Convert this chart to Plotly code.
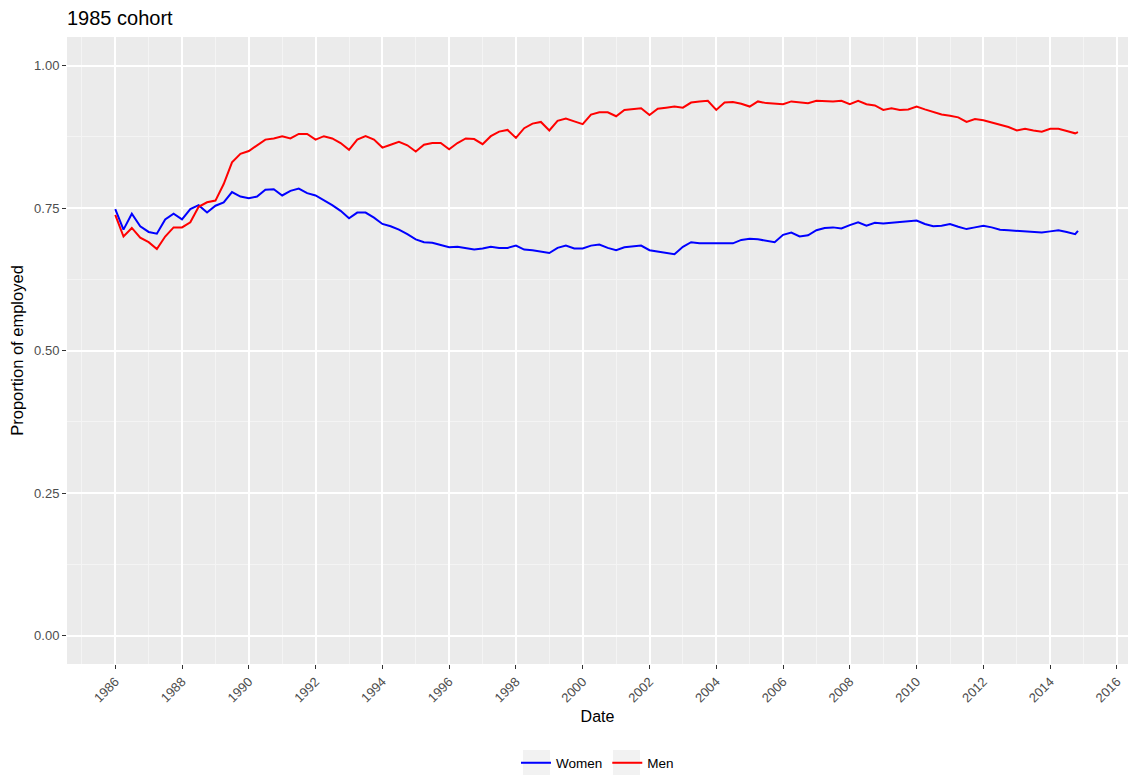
import plotly.graph_objects as go

# Quarterly observations (Jan, Apr, Jul, Oct) from 1986 to 2014, plus Nov 2014
years = list(range(1986, 2015))
months = ["01", "04", "07", "10"]
dates = [f"{y}-{m}-01" for y in years for m in months] + ["2014-11-01"]

women = [
    0.748, 0.712, 0.740, 0.718,   # 1986
    0.708, 0.705, 0.730, 0.740,   # 1987
    0.730, 0.748, 0.755, 0.742,   # 1988
    0.754, 0.760, 0.778, 0.770,   # 1989
    0.767, 0.770, 0.782, 0.783,   # 1990
    0.772, 0.780, 0.784, 0.776,   # 1991
    0.772, 0.764, 0.755, 0.745,   # 1992
    0.732, 0.742, 0.742, 0.733,   # 1993
    0.722, 0.718, 0.712, 0.704,   # 1994
    0.695, 0.690, 0.689, 0.685,   # 1995
    0.681, 0.682, 0.680, 0.677,   # 1996
    0.679, 0.682, 0.680, 0.680,   # 1997
    0.684, 0.677, 0.676, 0.674,   # 1998
    0.671, 0.680, 0.684, 0.679,   # 1999
    0.679, 0.684, 0.686, 0.680,   # 2000
    0.676, 0.681, 0.683, 0.684,   # 2001
    0.676, 0.674, 0.672, 0.669,   # 2002
    0.682, 0.690, 0.688, 0.688,   # 2003
    0.688, 0.689, 0.688, 0.694,   # 2004
    0.696, 0.695, 0.692, 0.690,   # 2005
    0.703, 0.707, 0.700, 0.702,   # 2006
    0.711, 0.715, 0.716, 0.714,   # 2007
    0.720, 0.725, 0.719, 0.724,   # 2008
    0.723, 0.724, 0.726, 0.726,   # 2009
    0.728, 0.722, 0.718, 0.719,   # 2010
    0.722, 0.717, 0.713, 0.716,   # 2011
    0.719, 0.716, 0.712, 0.711,   # 2012
    0.710, 0.709, 0.707, 0.707,   # 2013
    0.709, 0.711, 0.708, 0.704,   # 2014
    0.710,
]

men = [
    0.738, 0.700, 0.715, 0.698,   # 1986
    0.690, 0.678, 0.700, 0.716,   # 1987
    0.716, 0.725, 0.752, 0.760,   # 1988
    0.763, 0.792, 0.830, 0.845,   # 1989
    0.850, 0.860, 0.870, 0.872,   # 1990
    0.876, 0.872, 0.880, 0.880,   # 1991
    0.870, 0.876, 0.872, 0.864,   # 1992
    0.852, 0.870, 0.876, 0.870,   # 1993
    0.856, 0.861, 0.866, 0.860,   # 1994
    0.849, 0.861, 0.864, 0.864,   # 1995
    0.853, 0.864, 0.872, 0.871,   # 1996
    0.862, 0.876, 0.884, 0.887,   # 1997
    0.873, 0.890, 0.898, 0.901,   # 1998
    0.886, 0.903, 0.907, 0.902,   # 1999
    0.897, 0.914, 0.918, 0.918,   # 2000
    0.911, 0.922, 0.924, 0.925,   # 2001
    0.913, 0.924, 0.926, 0.928,   # 2002
    0.926, 0.935, 0.937, 0.938,   # 2003
    0.922, 0.935, 0.936, 0.933,   # 2004
    0.928, 0.937, 0.934, 0.933,   # 2005
    0.932, 0.937, 0.936, 0.934,   # 2006
    0.938, 0.937, 0.937, 0.938,   # 2007
    0.932, 0.938, 0.932, 0.930,   # 2008
    0.922, 0.925, 0.922, 0.923,   # 2009
    0.928, 0.923, 0.918, 0.914,   # 2010
    0.912, 0.909, 0.901, 0.906,   # 2011
    0.904, 0.900, 0.897, 0.892,   # 2012
    0.886, 0.889, 0.886, 0.884,   # 2013
    0.889, 0.889, 0.885, 0.881,   # 2014
    0.883,
]

series_names = ["Women", "Men"]
series_colors = ["#0000FF", "#FF0000"]

FONT = "Liberation Sans, Arial, sans-serif"

W, H = 1136, 776
ML, MR, MT, MB = 67, 8, 37, 112
PW, PH = W - ML - MR, H - MT - MB


def px_x(p):
    # page pixel -> paper x
    return (p - ML) / PW


def px_y(p):
    # page pixel -> paper y
    return (H - MB - p) / PH


fig = go.Figure()
for name, vals, col in zip(series_names, [women, men], series_colors):
    fig.add_trace(go.Scatter(
        x=dates, y=vals, mode="lines", name=name,
        line=dict(color=col, width=2),
    ))

# grey key backgrounds behind the legend glyphs
key_boxes = [(523, 550), (613, 640)]
shapes = [
    dict(type="rect", xref="paper", yref="paper",
         x0=px_x(a), x1=px_x(b), y0=px_y(775), y1=px_y(750),
         fillcolor="#F2F2F2", line=dict(width=0), layer="above")
    for a, b in key_boxes
]

fig.update_layout(
    width=W, height=H,
    margin=dict(l=ML, r=MR, t=MT, b=MB, autoexpand=False),
    paper_bgcolor="white",
    plot_bgcolor="#EBEBEB",
    font=dict(family=FONT, color="#000000"),
    title=dict(text="1985 cohort", x=ML / W, xanchor="left",
               y=1 - 18 / H, yanchor="middle",
               font=dict(size=20, color="#000000", family=FONT)),
    showlegend=True,
    legend=dict(orientation="h", x=0.5, xanchor="center",
                yref="container", y=1 - 763 / H, yanchor="middle",
                font=dict(size=13.5, color="#000000", family=FONT),
                bgcolor="rgba(0,0,0,0)", itemwidth=30),
    shapes=shapes,
)

fig.update_xaxes(
    type="date", automargin=False,
    range=["1984-07-22", "2016-05-01"],
    tick0="1986-01-01", dtick="M24", tickformat="%Y",
    tickangle=-45,
    ticks="outside", ticklen=4, tickcolor="#333333", tickwidth=1,
    tickfont=dict(size=13, color="#4D4D4D", family=FONT),
    showgrid=True, gridcolor="white", gridwidth=1.6,
    minor=dict(dtick="M24", tick0="1987-01-01", showgrid=True,
               gridcolor="#F4F4F4", gridwidth=0.8, ticks=""),
    zeroline=False, showline=False,
    title=dict(text="Date", font=dict(size=16, color="#000000", family=FONT),
               standoff=6),
)

fig.update_yaxes(
    automargin=False,
    range=[-0.05, 1.05],
    tick0=0, dtick=0.25, tickformat=".2f",
    ticks="outside", ticklen=4, tickcolor="#333333", tickwidth=1,
    tickfont=dict(size=13, color="#4D4D4D", family=FONT),
    showgrid=True, gridcolor="white", gridwidth=1.6,
    minor=dict(dtick=0.25, tick0=0.125, showgrid=True,
               gridcolor="#F4F4F4", gridwidth=0.8, ticks=""),
    zeroline=False, showline=False,
    title=dict(text="Proportion of employed",
               font=dict(size=16.5, color="#000000", family=FONT),
               standoff=6),
)

fig.write_html("out.html")
